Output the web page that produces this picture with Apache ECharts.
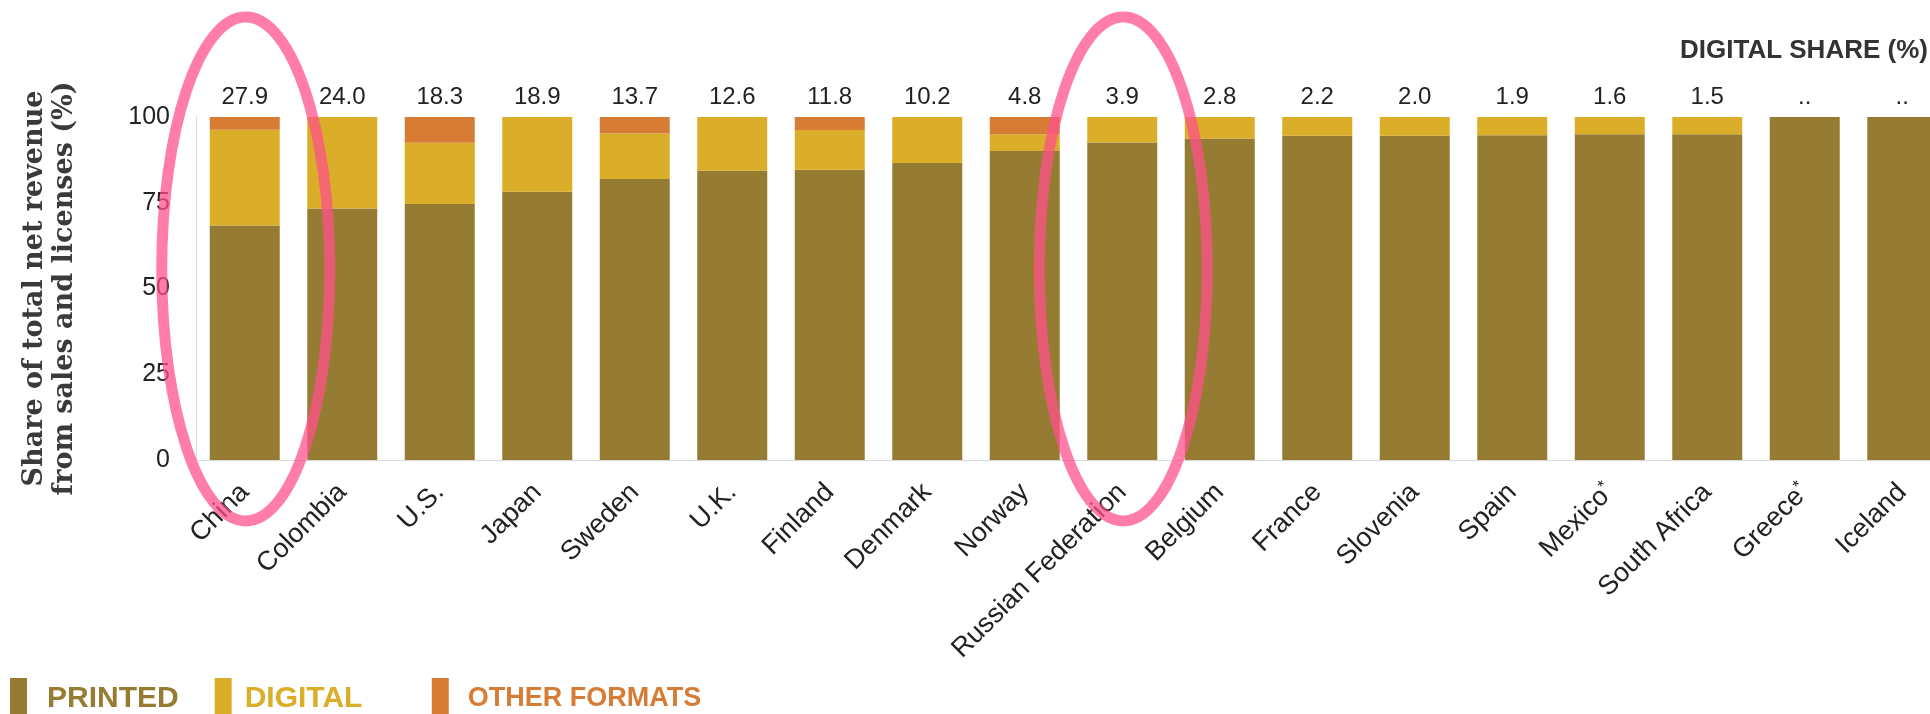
<!DOCTYPE html>
<html>
<head>
<meta charset="utf-8">
<title>Digital share</title>
<script src="https://cdn.jsdelivr.net/npm/echarts@6/dist/echarts.min.js"></script>
<style>
  html, body { margin: 0; padding: 0; background: #fff; overflow: hidden; }
  /* chart is a bit wider than the window: the last bar is cut at the right edge */
  #main { width: 1960px; height: 714px; }
</style>
</head>
<body>
<div id="main"></div>
<script>
var countries = ['China', 'Colombia', 'U.S.', 'Japan', 'Sweden', 'U.K.', 'Finland', 'Denmark', 'Norway',
    'Russian Federation', 'Belgium', 'France', 'Slovenia', 'Spain', 'Mexico*', 'South Africa', 'Greece*', 'Iceland'];
var shareLabels = ['27.9', '24.0', '18.3', '18.9', '13.7', '12.6', '11.8', '10.2', '4.8',
    '3.9', '2.8', '2.2', '2.0', '1.9', '1.6', '1.5', '..', '..'];
var printed = [68.4, 73.3, 74.6, 78.2, 81.9, 84.3, 84.6, 86.6, 90.1, 92.6, 93.7, 94.5, 94.5, 94.7, 95.0, 95.0, 100, 100];
var digital = [27.9, 26.7, 17.9, 21.8, 13.3, 15.7, 11.6, 13.4, 4.9, 7.4, 6.3, 5.5, 5.5, 5.3, 5.0, 5.0, 0, 0];
var otherFormats = [3.7, 0, 7.5, 0, 4.8, 0, 3.8, 0, 5.0, 0, 0, 0, 0, 0, 0, 0, 0, 0];
var yTicks = [0, 25, 50, 75, 100];
var circled = ['China', 'Russian Federation'];

var colors = ['#967C33', '#DAAE28', '#D67C34'];
var sans = 'Liberation Sans, Arial, sans-serif';

var chart = echarts.init(document.getElementById('main'));

var option = {
    backgroundColor: '#fff',
    animation: false,
    color: colors,
    title: {
        text: 'DIGITAL SHARE (%)',
        left: 1680,
        top: 38,
        padding: 0,
        textStyle: { fontFamily: sans, fontSize: 26, fontWeight: 'bold', color: '#333' }
    },
    legend: {
        left: 5,
        top: 673,
        icon: 'rect',
        itemWidth: 17,
        itemHeight: 41,
        itemGap: 36,
        // the gap after DIGITAL is wider than the others
        formatter: function (name) {
            return name === 'DIGITAL' ? name + '\u00a0\u00a0\u00a0\u00a0' : name;
        },
        textStyle: { fontFamily: sans, fontSize: 30, fontWeight: 'bold' },
        data: [
            { name: 'PRINTED', textStyle: { color: colors[0], fontSize: 30, padding: [0, 0, 0, 15] } },
            { name: 'DIGITAL', textStyle: { color: colors[1], fontSize: 30, padding: [0, 0, 0, 8] } },
            { name: 'OTHER FORMATS', textStyle: { color: colors[2], fontSize: 27, padding: [0, 0, 0, 14] } }
        ]
    },
    grid: { left: 196, top: 117, width: 1755, height: 343 },
    xAxis: [
        {
            type: 'category',
            data: countries,
            axisLine: { lineStyle: { color: '#d3d8e0', width: 1 } },
            axisTick: { show: false },
            axisLabel: {
                rotate: 45,
                margin: 28,
                interval: 0,
                fontFamily: sans,
                fontSize: 27,
                color: '#222',
                formatter: function (v) {
                    return v.charAt(v.length - 1) === '*' ? v.slice(0, -1) + '{sup|*}' : v;
                },
                rich: {
                    sup: { fontFamily: sans, fontSize: 17, color: '#222', verticalAlign: 'top', padding: [0, 0, 12, 0] }
                }
            }
        },
        {
            type: 'category',
            position: 'top',
            data: shareLabels,
            axisLine: { show: false },
            axisTick: { show: false },
            axisLabel: { interval: 0, margin: 8, fontFamily: sans, fontSize: 24, color: '#222' }
        }
    ],
    yAxis: {
        type: 'value',
        min: yTicks[0],
        max: yTicks[yTicks.length - 1],
        interval: 25,
        splitLine: { show: false },
        axisLine: { show: true, lineStyle: { color: '#d3d8e0', width: 1 } },
        axisTick: { show: false },
        axisLabel: { margin: 26, fontFamily: sans, fontSize: 25, color: '#222' },
        name: 'Share of total net revenue\nfrom sales and licenses (%)',
        nameLocation: 'middle',
        nameRotate: 90,
        nameGap: 116,
        nameTextStyle: {
            fontFamily: 'DejaVu Serif, serif',
            fontWeight: 'bold',
            fontSize: 27,
            lineHeight: 30,
            color: '#3a3a3a'
        }
    },
    series: [
        { name: 'PRINTED', type: 'bar', stack: 'total', barWidth: 70, data: printed },
        { name: 'DIGITAL', type: 'bar', stack: 'total', barWidth: 70, data: digital },
        { name: 'OTHER FORMATS', type: 'bar', stack: 'total', barWidth: 70, data: otherFormats }
    ]
};

chart.setOption(option);

// pink highlight rings around two countries
var rings = [];
for (var i = 0; i < circled.length; i++) {
    var cx = chart.convertToPixel({ xAxisIndex: 0 }, circled[i]);
    rings.push({
        type: 'ellipse',
        z: 100,
        shape: { cx: cx + 1, cy: 269, rx: 84, ry: 252 },
        style: { fill: null, stroke: 'rgba(255,80,138,0.74)', lineWidth: 11 }
    });
}
chart.setOption({ graphic: rings });
</script>
</body>
</html>
